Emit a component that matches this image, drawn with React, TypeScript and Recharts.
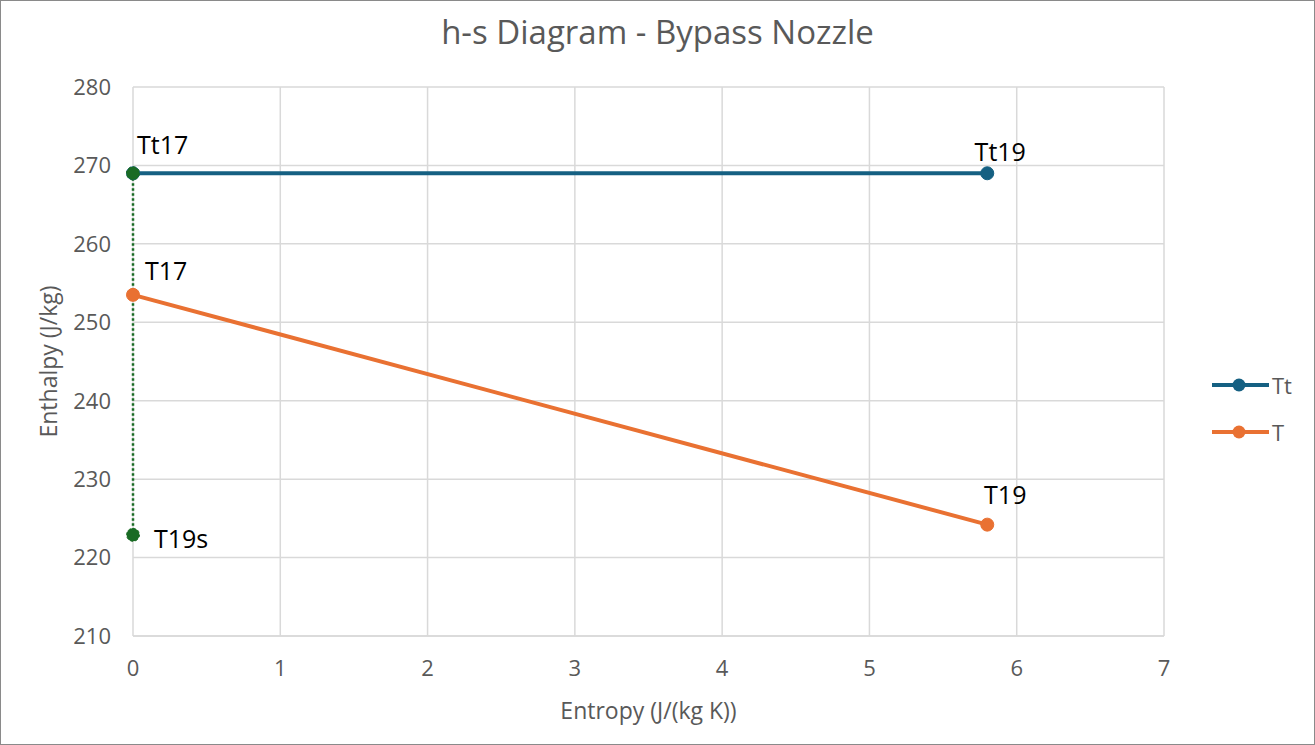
import React from "react";
import {
  CartesianGrid,
  ComposedChart,
  LabelList,
  Legend,
  Line,
  XAxis,
  YAxis,
} from "recharts";

const entropyTicks = [0, 1, 2, 3, 4, 5, 6, 7];
const enthalpyTicks = [210, 220, 230, 240, 250, 260, 270, 280];

// total (stagnation) states
const totalStates = [
  { s: 0, h: 269.0, name: "Tt17" },
  { s: 5.8, h: 269.0, name: "Tt19" },
];

// static states
const staticStates = [
  { s: 0, h: 253.5, name: "T17" },
  { s: 5.8, h: 224.2, name: "T19" },
];

// isentropic expansion down to T19s
const isentropicStates = [
  { s: 0, h: 269.0, name: "" },
  { s: 0, h: 222.9, name: "T19s" },
];

const legendItems = [
  { label: "Tt", color: "#156082" },
  { label: "T", color: "#E97132" },
];

const FONT = "'Open Sans', 'Noto Sans', sans-serif";
const GRID = "#d9d9d9";
const TEXT_GRAY = "#595959";

// where each point label sits relative to its marker
const labelOffsets: Record<string, { dx: number; dy: number; anchor: "start" | "middle" }> = {
  Tt17: { dx: 4, dy: -29, anchor: "start" },
  Tt19: { dx: 13, dy: -22, anchor: "middle" },
  T17: { dx: 12, dy: -25, anchor: "start" },
  T19: { dx: 18, dy: -31, anchor: "middle" },
  T19s: { dx: 21, dy: 3, anchor: "start" },
};

function PointLabel(props: any) {
  const { x, y, value } = props;
  const off = labelOffsets[value];
  if (!value || !off) return null;
  return (
    <text
      x={x + off.dx}
      y={y + off.dy}
      textAnchor={off.anchor}
      dominantBaseline="central"
      fontFamily={FONT}
      fontSize={25}
      fill="#000"
    >
      {value}
    </text>
  );
}

function LegendContent() {
  return (
    <div style={{ paddingLeft: 48, fontFamily: FONT }}>
      {legendItems.map((item) => (
        <div
          key={item.label}
          style={{ display: "flex", alignItems: "center", height: 47, whiteSpace: "nowrap" }}
        >
          <svg width={59} height={16} style={{ flexShrink: 0 }}>
            <line x1={0} y1={8} x2={57} y2={8} stroke={item.color} strokeWidth={4} />
            <circle cx={27} cy={8} r={6.5} fill={item.color} />
          </svg>
          <span style={{ fontSize: 22, color: TEXT_GRAY, marginLeft: 1 }}>{item.label}</span>
        </div>
      ))}
    </div>
  );
}

export default function App() {
  return (
    <div
      style={{
        position: "absolute",
        left: 0,
        top: 0,
        width: 1315,
        height: 745,
        boxSizing: "border-box",
        border: "1px solid #8a8a8a",
        background: "#fff",
        fontFamily: FONT,
      }}
    >
      <div
        style={{
          position: "absolute",
          left: 0,
          right: 0,
          top: 8,
          textAlign: "center",
          fontSize: 33,
          color: TEXT_GRAY,
        }}
      >
        h-s Diagram - Bypass Nozzle
      </div>
      <ComposedChart
        width={1313}
        height={743}
        margin={{ top: 86, right: 50, bottom: 28, left: 0 }}
      >
        <CartesianGrid stroke={GRID} strokeWidth={1.5} />
        <XAxis
          type="number"
          dataKey="s"
          domain={[0, 7]}
          ticks={entropyTicks}
          interval={0}
          allowDuplicatedCategory={false}
          height={80}
          axisLine={{ stroke: GRID, strokeWidth: 1.5 }}
          tickLine={false}
          tickMargin={18}
          tick={{ fill: TEXT_GRAY, fontSize: 22, fontFamily: FONT }}
          label={{
            content: ({ viewBox }: any) => (
              <text
                x={viewBox.x + viewBox.width / 2}
                y={709}
                textAnchor="middle"
                dominantBaseline="central"
                fontFamily={FONT}
                fontSize={23}
                fill={TEXT_GRAY}
              >
                Entropy (J/(kg K))
              </text>
            ),
          }}
        />
        <YAxis
          type="number"
          dataKey="h"
          domain={[210, 280]}
          ticks={enthalpyTicks}
          interval={0}
          width={132}
          axisLine={false}
          tickLine={false}
          tickMargin={16}
          tick={{ fill: TEXT_GRAY, fontSize: 22, fontFamily: FONT }}
          label={{
            content: ({ viewBox }: any) => {
              const cx = 47;
              const cy = viewBox.y + viewBox.height / 2;
              return (
                <text
                  x={cx}
                  y={cy}
                  textAnchor="middle"
                  dominantBaseline="central"
                  transform={`rotate(-90 ${cx} ${cy})`}
                  fontFamily={FONT}
                  fontSize={23}
                  fill={TEXT_GRAY}
                >
                  Enthalpy (J/kg)
                </text>
              );
            },
          }}
        />
        <Legend
          layout="vertical"
          align="right"
          verticalAlign="top"
          width={100}
          wrapperStyle={{ top: 360, right: 50 }}
          content={<LegendContent />}
        />
        <Line
          data={totalStates}
          dataKey="h"
          name="Tt"
          stroke="#156082"
          strokeWidth={4}
          dot={{ r: 6.5, fill: "#156082", stroke: "#156082", strokeWidth: 1 }}
          isAnimationActive={false}
        >
          <LabelList dataKey="name" content={<PointLabel />} />
        </Line>
        <Line
          data={staticStates}
          dataKey="h"
          name="T"
          stroke="#E97132"
          strokeWidth={4}
          dot={{ r: 6.5, fill: "#E97132", stroke: "#E97132", strokeWidth: 1 }}
          isAnimationActive={false}
        >
          <LabelList dataKey="name" content={<PointLabel />} />
        </Line>
        <Line
          data={isentropicStates}
          dataKey="h"
          name="Ts"
          legendType="none"
          stroke="#196B24"
          strokeWidth={2.5}
          strokeDasharray="2.5 2.5"
          dot={{ r: 6.5, fill: "#196B24", stroke: "#196B24", strokeWidth: 1 }}
          isAnimationActive={false}
        >
          <LabelList dataKey="name" content={<PointLabel />} />
        </Line>
      </ComposedChart>
    </div>
  );
}
